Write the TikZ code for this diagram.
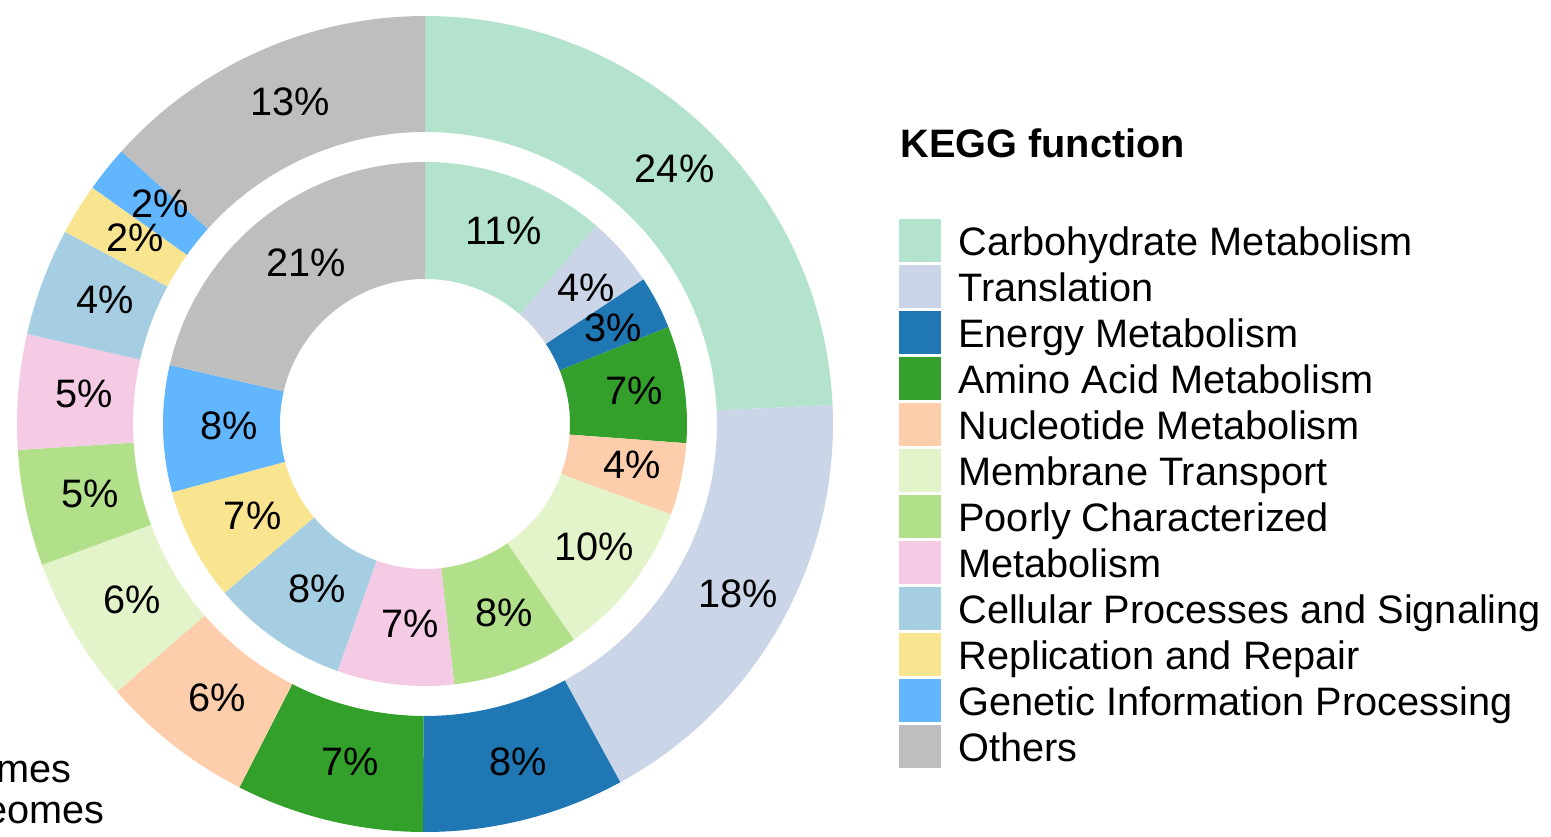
\documentclass[tikz,border=0pt]{standalone}
\usepackage{fontspec}
\setmainfont{Liberation Sans}
\definecolor{cCarb}{HTML}{B3E2CD}
\definecolor{cTrans}{HTML}{CBD5E8}
\definecolor{cEnergy}{HTML}{1F78B4}
\definecolor{cAmino}{HTML}{33A02C}
\definecolor{cNucl}{HTML}{FDCDAC}
\definecolor{cMemb}{HTML}{E4F4CA}
\definecolor{cPoor}{HTML}{B2DF8A}
\definecolor{cMetab}{HTML}{F4CAE4}
\definecolor{cCell}{HTML}{A6CEE3}
\definecolor{cRepl}{HTML}{F9E48F}
\definecolor{cGen}{HTML}{61B6FD}
\definecolor{cOther}{HTML}{BEBEBE}
\begin{document}
\begin{tikzpicture}[x=0.5pt,y=0.5pt,
  txt/.style={font=\fontsize{19.85}{24}\selectfont, inner sep=0pt},
  ttl/.style={font=\fontsize{19.85}{24}\selectfont\bfseries, inner sep=0pt},
  pct/.style={txt, shift={(8,2)}}]
\useasboundingbox (-425,-412) rectangle (1126,424);
% outer ring
\foreach \c/\a/\b/\t [count=\i] in {
  cCarb/90/2.67/24, cTrans/2.67/-61.4/18, cEnergy/-61.4/-90.3/8,
  cAmino/-90.3/-117.05/7, cNucl/-117.05/-139.0/6, cMemb/-139.0/-159.8/6,
  cPoor/-159.8/-176.35/5, cMetab/-176.35/-192.75/5, cCell/-192.75/-208.1/4,
  cRepl/-208.1/-215.4/2, cGen/-215.4/-221.95/2, cOther/-221.95/-270/13} {
  \fill[\c] (\a:408) arc[start angle=\a, end angle=\b, radius=408]
     -- (\b:292) arc[start angle=\b, end angle=\a, radius=292] -- cycle;
}
% inner ring
\foreach \c/\a/\b/\t [count=\i] in {
  cCarb/90/49.2/11, cTrans/49.2/33.5/4, cEnergy/33.5/21.7/3,
  cAmino/21.7/-4.2/7, cNucl/-4.2/-20.2/4, cMemb/-20.2/-55.4/10,
  cPoor/-55.4/-83.6/8, cMetab/-83.6/-109.5/7, cCell/-109.5/-139.9/8,
  cRepl/-139.9/-164.9/7, cGen/-164.9/-193.0/8, cOther/-193.0/-270/21} {
  \fill[\c] (\a:262) arc[start angle=\a, end angle=\b, radius=262]
     -- (\b:145) arc[start angle=\b, end angle=\a, radius=145] -- cycle;
}
% labels
\foreach \a/\b/\t [count=\i] in {
  90/2.67/24, 2.67/-61.4/18, -61.4/-90.3/8, -90.3/-117.05/7,
  -117.05/-139.0/6, -139.0/-159.8/6, -159.8/-176.35/5, -176.35/-192.75/5,
  -192.75/-208.1/4, -208.1/-215.4/2, -215.4/-221.95/2, -221.95/-270/13} {
  \node[pct] (out\i) at ({(\a+\b)/2}:350) {\t\%};
}
\foreach \a/\b/\t [count=\i] in {
  90/49.2/11, 49.2/33.5/4, 33.5/21.7/3, 21.7/-4.2/7, -4.2/-20.2/4,
  -20.2/-55.4/10, -55.4/-83.6/8, -83.6/-109.5/7, -109.5/-139.9/8,
  -139.9/-164.9/7, -164.9/-193.0/8, -193.0/-270/21} {
  \node[pct] (in\i) at ({(\a+\b)/2}:203.5) {\t\%};
}
% legend
\node[ttl, anchor=base west] (title) at (475,267) {KEGG function};
\foreach \c/\n [count=\i from 0] in {
  cCarb/Carbohydrate Metabolism, cTrans/Translation, cEnergy/Energy Metabolism,
  cAmino/Amino Acid Metabolism, cNucl/Nucleotide Metabolism,
  cMemb/Membrane Transport, cPoor/Poorly Characterized, cMetab/Metabolism,
  cCell/Cellular Processes and Signaling, cRepl/Replication and Repair,
  cGen/Genetic Information Processing, cOther/Others} {
  \fill[\c] (474,{205-46*\i}) rectangle (516,{162-46*\i});
  \node[txt, anchor=base west] (leg\i) at (533,{169-46*\i}) {\n};
}
% cut-off texts at bottom left
\node[txt, anchor=base east] (cutA) at (-353,-358) {mes};
\node[txt, anchor=base east] (cutB) at (-320,-399) {eomes};
\end{tikzpicture}
\end{document}
